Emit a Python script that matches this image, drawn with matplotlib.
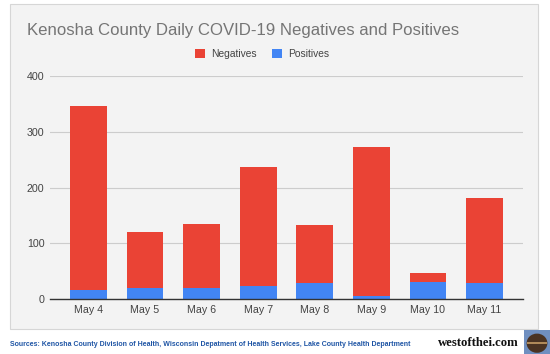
import matplotlib
matplotlib.use("Agg")
import matplotlib.pyplot as plt
from matplotlib.patches import Rectangle, Circle
import numpy as np

days = ["May 4", "May 5", "May 6", "May 7", "May 8", "May 9", "May 10", "May 11"]
positives = [16, 20, 20, 24, 29, 5, 31, 29]
negatives = [331, 101, 114, 213, 103, 267, 15, 153]
y_ticks = [0, 100, 200, 300, 400]

RED = "#ea4335"
BLUE = "#4285f4"
BG = "#f3f3f3"

plt.rcParams["font.family"] = ["Liberation Sans", "DejaVu Sans"]

W, H = 550, 354
fig = plt.figure(figsize=(W / 100, H / 100), dpi=100)
fig.patch.set_facecolor("white")


def fx(px):
    return px / W


def fy(py):
    return 1 - py / H


# chart card background with thin border
fig.patches.append(Rectangle((fx(10), fy(329)), fx(538) - fx(10), fy(4) - fy(329),
                             transform=fig.transFigure, facecolor=BG,
                             edgecolor="#d6d6d6", linewidth=0.8, zorder=-5))

ax = fig.add_axes([fx(50), fy(299), fx(523) - fx(50), fy(76) - fy(299)])
ax.set_facecolor(BG)
x = np.arange(len(days))
ax.bar(x, positives, width=0.65, color=BLUE, zorder=3, label="Positives")
ax.bar(x, negatives, bottom=positives, width=0.65, color=RED, zorder=3, label="Negatives")
ax.set_xlim(-0.68, len(days) - 1 + 0.68)
ax.set_ylim(0, 400)
ax.set_yticks(y_ticks)
ax.set_xticks(x)
ax.set_xticklabels(days)
ax.tick_params(length=0, labelsize=7.7, labelcolor="#444444")
ax.tick_params(axis="y", pad=4)
ax.tick_params(axis="x", pad=4)
ax.grid(True, axis="y", color="#cccccc", linewidth=0.8, zorder=0)
for s in ["top", "right", "left"]:
    ax.spines[s].set_visible(False)
ax.spines["bottom"].set_color("#333333")
ax.spines["bottom"].set_linewidth(1.0)
ax.spines["bottom"].set_zorder(4)

fig.text(fx(27), fy(30), "Kenosha County Daily COVID-19 Negatives and Positives",
         fontsize=12.1, color="#757575", va="center", ha="left")

handles, labels = ax.get_legend_handles_labels()
fig.legend(handles[::-1], labels[::-1], loc="center", bbox_to_anchor=(fx(262), fy(54)),
           ncol=2, frameon=False, fontsize=7.4, handlelength=0.95, handleheight=0.95,
           handletextpad=0.6, columnspacing=1.5, labelcolor="#444444")

fig.text(fx(10), fy(344), "Sources: Kenosha County Division of Health, Wisconsin Depatment "
         "of Health Services, Lake County Health Department",
         fontsize=5.0, fontweight="bold", color="#1f55a5", va="center", ha="left")
fig.text(fx(438), fy(343), "westofthei.com", family=["Liberation Serif", "DejaVu Serif"],
         fontsize=9.2, fontweight="bold", color="#111111", va="center", ha="left")

# small logo icon
icon = fig.add_axes([fx(524), fy(354), fx(550) - fx(524), fy(330) - fy(354)])
icon.set_xlim(0, 1)
icon.set_ylim(0, 1)
icon.axis("off")
icon.add_patch(Rectangle((0, 0), 1, 1, facecolor="#6f8fc0", edgecolor="none"))
icon.add_patch(Circle((0.5, 0.45), 0.4, facecolor="#4a3323", edgecolor="none"))
icon.add_patch(Rectangle((0.1, 0.42), 0.8, 0.08, facecolor="#b08a5a", edgecolor="none"))

fig.savefig("out.png", dpi=100)
